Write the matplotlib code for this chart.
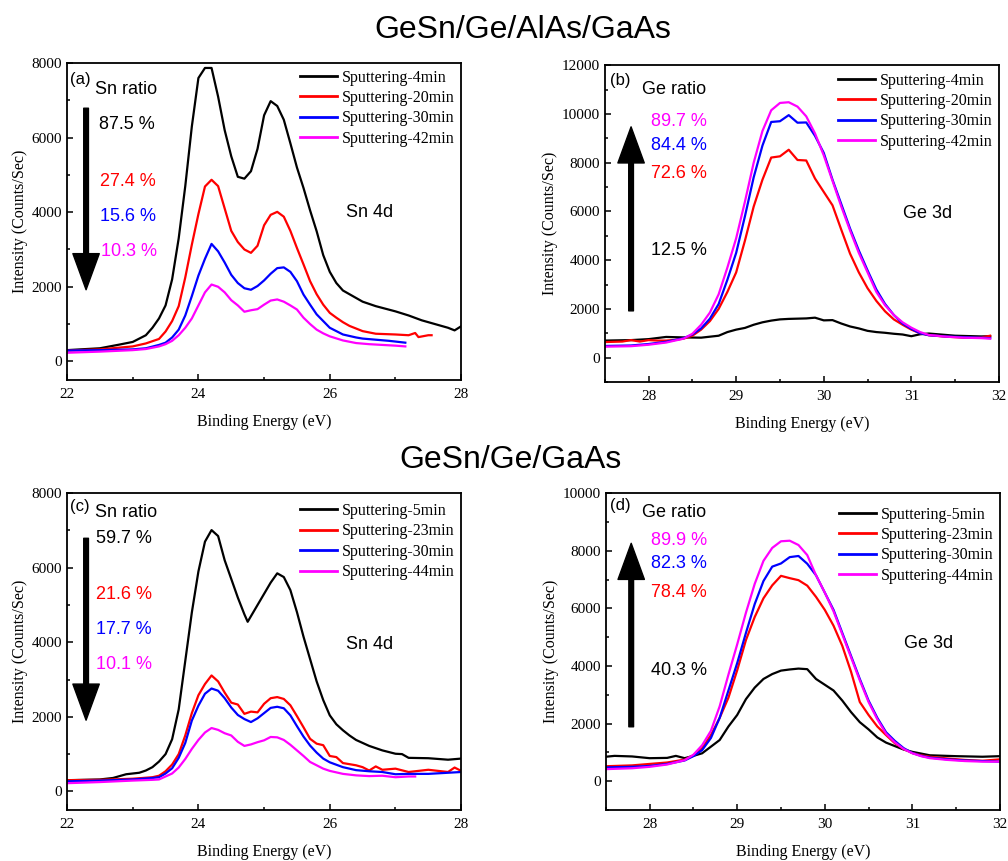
import numpy as np
import matplotlib
matplotlib.use("Agg")
import matplotlib.pyplot as plt
from matplotlib.ticker import MultipleLocator

plt.rcParams["font.family"] = ["Liberation Serif", "DejaVu Serif"]
SANS = ["Liberation Sans", "DejaVu Sans"]

COLORS = ["#000000", "#ff0000", "#0000ff", "#ff00ff"]

# ---- panel (a): Sn 4d, GeSn/Ge/AlAs/GaAs ----
A_LABELS = ["Sputtering-4min", "Sputtering-20min", "Sputtering-30min", "Sputtering-42min"]
A_X4 = [22.0, 22.5, 22.8, 23.0, 23.2, 23.3,
        23.4, 23.5, 23.6, 23.7, 23.8, 23.9, 24.0, 24.1, 24.2, 24.3,
        24.4, 24.5, 24.6, 24.7, 24.8, 24.9, 25.0, 25.1, 25.2, 25.3,
        25.4, 25.5, 25.6, 25.7, 25.8, 25.9, 26.0, 26.1, 26.2, 26.3,
        26.5, 26.7, 27.0, 27.2, 27.4, 27.6, 27.8, 27.9, 28.0]
A_Y4 = [300, 350, 450, 520, 700, 900,
        1150, 1500, 2200, 3300, 4700, 6300, 7600, 7870, 7870, 7100,
        6200, 5500, 4950, 4900, 5100, 5700, 6600, 6980, 6850, 6480,
        5850, 5200, 4650, 4050, 3490, 2850, 2400, 2100, 1900, 1800,
        1600, 1480, 1340, 1230, 1100, 1000, 900, 830, 940]
A_X20 = [22.0, 22.5, 23.0, 23.2,
         23.4, 23.5, 23.6, 23.7, 23.8, 23.9, 24.0, 24.1, 24.2, 24.3,
         24.4, 24.5, 24.6, 24.7, 24.8, 24.9, 25.0, 25.1, 25.2, 25.3,
         25.4, 25.5, 25.6, 25.7, 25.8, 25.9, 26.0, 26.1, 26.2, 26.3,
         26.5, 26.7, 27.0, 27.2, 27.3, 27.35, 27.5, 27.55]
A_Y20 = [290, 320, 400, 480,
         600, 800, 1080, 1480, 2250, 3130, 3950, 4690, 4870, 4700,
         4100, 3500, 3200, 3000, 2910, 3100, 3650, 3930, 4010, 3880,
         3500, 3040, 2600, 2150, 1800, 1520, 1300, 1170, 1050, 950,
         810, 740, 720, 700, 760, 650, 700, 700]
A_X30 = [22.0, 22.5, 23.0, 23.2,
         23.4, 23.5, 23.6, 23.7, 23.8, 23.9, 24.0, 24.1, 24.2, 24.3,
         24.4, 24.5, 24.6, 24.7, 24.8, 24.9, 25.0, 25.1, 25.2, 25.3,
         25.4, 25.5, 25.6, 25.7, 25.8, 25.9, 26.0,
         26.2, 26.4, 26.5, 26.7, 26.9, 27.0, 27.15]
A_Y30 = [290, 300, 320, 350,
         440, 500, 640, 850, 1230, 1750, 2300, 2750, 3150, 2950,
         2650, 2320, 2100, 1960, 1920, 2020, 2170, 2350, 2500, 2520,
         2400, 2150, 1790, 1520, 1260, 1080, 900,
         720, 640, 610, 580, 550, 530, 500]
A_X42 = [22.0, 22.5, 23.0, 23.2,
         23.4, 23.5, 23.6, 23.7, 23.8, 23.9, 24.0, 24.1, 24.2, 24.3,
         24.4, 24.5, 24.6, 24.7, 24.8, 24.9, 25.0, 25.1, 25.2, 25.3,
         25.4, 25.5, 25.6, 25.7, 25.8, 25.9, 26.0,
         26.2, 26.4, 26.6, 26.8, 27.0, 27.15]
A_Y42 = [230, 260, 300, 330,
         400, 460, 550, 700, 900, 1150, 1500, 1850, 2060, 2000,
         1850, 1640, 1500, 1330, 1370, 1400, 1520, 1630, 1660, 1600,
         1500, 1390, 1170, 1000, 850, 750, 670,
         560, 490, 460, 440, 420, 400]

# ---- panel (b): Ge 3d, GeSn/Ge/AlAs/GaAs ----
B_LABELS = A_LABELS
B_X4 = [27.5, 27.8, 28.0, 28.2, 28.4, 28.6,
        28.8, 28.9, 29.0, 29.1, 29.2, 29.3, 29.4, 29.5, 29.6, 29.7,
        29.8, 29.9, 30.0, 30.1, 30.2, 30.3, 30.4, 30.5, 30.6, 30.7,
        30.8, 30.9, 31.0, 31.1, 31.2, 31.5, 31.8, 31.9]
B_Y4 = [700, 720, 760, 850, 830, 820,
        900, 1050, 1150, 1220, 1350, 1450, 1520, 1570, 1590, 1600,
        1610, 1640, 1530, 1540, 1400, 1280, 1200, 1100, 1050, 1020,
        980, 950, 880, 960, 990, 900, 870, 880]
B_X20 = [27.5, 27.6, 27.7, 27.8, 27.9, 28.0, 28.1, 28.2, 28.3, 28.4, 28.5,
         28.6, 28.7, 28.8, 28.9, 29.0, 29.1, 29.2, 29.3, 29.4, 29.5,
         29.6, 29.7, 29.8, 29.9, 30.0, 30.1, 30.2, 30.3, 30.4, 30.5,
         30.6, 30.7, 30.8, 30.9, 31.0, 31.1, 31.2, 31.4, 31.6, 31.8, 31.9]
B_Y20 = [640, 650, 660, 720, 660, 720, 700, 700, 730, 780, 900,
         1150, 1500, 2000, 2700, 3500, 4800, 6200, 7300, 8210, 8260,
         8530, 8110, 8090, 7350, 6800, 6250, 5250, 4270, 3500, 2850,
         2330, 1900, 1570, 1350, 1150, 1000, 920, 860, 820, 830, 900]
B_X30 = [27.5, 27.8, 28.0, 28.2, 28.4, 28.5,
         28.6, 28.7, 28.8, 28.9, 29.0, 29.1, 29.2, 29.3, 29.4, 29.5,
         29.6, 29.7, 29.8, 29.9, 30.0, 30.1, 30.2, 30.3, 30.4, 30.5,
         30.6, 30.7, 30.8, 30.9, 31.0, 31.1, 31.2, 31.4, 31.6, 31.8, 31.9]
B_Y30 = [480, 500, 560, 650, 800, 950,
         1200, 1600, 2200, 3200, 4300, 5800, 7400, 8700, 9670, 9700,
         9950, 9640, 9650, 9100, 8400, 7300, 6300, 5300, 4400, 3580,
         2800, 2200, 1750, 1400, 1180, 1000, 920, 870, 840, 820, 800]
B_X42 = B_X30
B_Y42 = [450, 470, 530, 620, 780, 980,
         1350, 1850, 2600, 3700, 4900, 6400, 8000, 9300, 10150, 10450,
         10480, 10300, 9900, 9200, 8300, 7250, 6200, 5220, 4300, 3500,
         2700, 2150, 1750, 1450, 1230, 1050, 930, 860, 820, 800, 780]

# ---- panel (c): Sn 4d, GeSn/Ge/GaAs ----
C_LABELS = ["Sputtering-5min", "Sputtering-23min", "Sputtering-30min", "Sputtering-44min"]
C_X5 = [22.0, 22.5, 22.7, 22.9, 23.1, 23.2, 23.3,
        23.4, 23.5, 23.6, 23.7, 23.8, 23.9, 24.0, 24.1, 24.2, 24.3,
        24.4, 24.5, 24.6, 24.7, 24.75, 24.8, 24.9, 25.0, 25.1, 25.2, 25.3,
        25.4, 25.5, 25.6, 25.7, 25.8, 25.9, 26.0, 26.1, 26.2, 26.3,
        26.4, 26.6, 26.8, 27.0, 27.1, 27.2, 27.5, 27.8, 28.0]
C_Y5 = [300, 320, 360, 460, 500, 560, 650,
        800, 1000, 1400, 2200, 3500, 4800, 5900, 6700, 7010, 6850,
        6200, 5700, 5200, 4750, 4550, 4700, 5000, 5300, 5600, 5850, 5750,
        5400, 4810, 4150, 3550, 2950, 2450, 2040, 1800, 1640, 1500,
        1380, 1220, 1100, 1010, 1000, 900, 890, 850, 880]
C_X23 = [22.0, 22.5, 23.0, 23.3,
         23.4, 23.5, 23.6, 23.7, 23.8, 23.9, 24.0, 24.1, 24.2, 24.3,
         24.4, 24.5, 24.6, 24.7, 24.8, 24.9, 25.0, 25.1, 25.2, 25.3,
         25.4, 25.5, 25.6, 25.7, 25.8, 25.9, 26.0, 26.1, 26.2, 26.3,
         26.4, 26.5, 26.6, 26.7, 26.8, 27.0, 27.2, 27.5, 27.8, 27.9, 28.0]
C_Y23 = [300, 310, 340, 380,
         420, 540, 720, 1000, 1500, 2100, 2580, 2880, 3110, 2950,
         2650, 2380, 2330, 2080, 2140, 2120, 2350, 2500, 2530, 2480,
         2310, 2020, 1720, 1410, 1280, 1240, 950, 920, 760, 730,
         700, 650, 560, 670, 580, 610, 520, 580, 520, 640, 550]
C_X30 = [22.0, 22.5, 23.0, 23.3,
         23.4, 23.5, 23.6, 23.7, 23.8, 23.9, 24.0, 24.1, 24.2, 24.3,
         24.4, 24.5, 24.6, 24.7, 24.8, 24.9, 25.0, 25.1, 25.2, 25.3,
         25.4, 25.5, 25.6, 25.7, 25.8, 25.9, 26.0,
         26.2, 26.4, 26.6, 26.8, 27.0, 27.2, 27.5, 27.8, 28.0]
C_Y30 = [270, 290, 320, 360,
         380, 480, 620, 900, 1300, 1900, 2300, 2620, 2760, 2700,
         2500, 2250, 2050, 1940, 1860, 1960, 2100, 2240, 2270, 2230,
         2040, 1750, 1470, 1230, 1040, 880, 780,
         650, 570, 540, 520, 460, 470, 470, 500, 520]
C_X44 = [22.0, 22.5, 23.0, 23.3,
         23.4, 23.5, 23.6, 23.7, 23.8, 23.9, 24.0, 24.1, 24.2, 24.3,
         24.4, 24.5, 24.6, 24.7, 24.8, 24.9, 25.0, 25.1, 25.2, 25.3,
         25.4, 25.5, 25.6, 25.7, 25.8, 25.9, 26.0,
         26.2, 26.4, 26.6, 26.8, 27.0, 27.2, 27.3]
C_Y44 = [220, 250, 290, 310,
         320, 400, 480, 640, 870, 1140, 1380, 1580, 1700, 1650,
         1560, 1500, 1330, 1220, 1260, 1320, 1370, 1460, 1450, 1380,
         1250, 1100, 950, 790, 700, 610, 550,
         470, 430, 410, 420, 380, 400, 400]

# ---- panel (d): Ge 3d, GeSn/Ge/GaAs ----
D_LABELS = C_LABELS
D_X5 = [27.5, 27.6, 27.8, 28.0, 28.2, 28.3, 28.4, 28.5,
        28.6, 28.7, 28.8, 28.9, 29.0, 29.1, 29.2, 29.3, 29.4, 29.5,
        29.6, 29.7, 29.8, 29.9, 30.0, 30.1, 30.2, 30.3, 30.4, 30.5,
        30.6, 30.7, 30.8, 30.9, 31.0, 31.1, 31.2, 31.5, 31.8, 32.0]
D_Y5 = [850, 880, 860, 800, 810, 880, 800, 880,
        970, 1200, 1430, 1900, 2300, 2850, 3250, 3550, 3720, 3840,
        3880, 3910, 3890, 3550, 3350, 3150, 2800, 2400, 2050, 1800,
        1520, 1340, 1220, 1100, 1020, 960, 900, 870, 850, 870]
D_X23 = [27.5, 27.8, 28.0, 28.2, 28.4, 28.5,
         28.6, 28.7, 28.8, 28.9, 29.0, 29.1, 29.2, 29.3, 29.4, 29.5,
         29.6, 29.7, 29.8, 29.9, 30.0, 30.1, 30.2, 30.3, 30.4, 30.5,
         30.6, 30.7, 30.8, 30.9, 31.0, 31.1, 31.2, 31.4, 31.6, 31.8, 32.0]
D_Y23 = [520, 550, 600, 650, 750, 900,
         1150, 1600, 2200, 2900, 3850, 4900, 5700, 6350, 6800, 7130,
         7050, 6980, 6790, 6400, 5950, 5400, 4700, 3800, 2750, 2300,
         1900, 1600, 1320, 1120, 980, 900, 850, 790, 740, 710, 760]
D_X30 = D_X23
D_Y30 = [480, 500, 530, 600, 720, 870,
         1080, 1500, 2200, 3150, 4100, 5150, 6150, 6950, 7450, 7560,
         7780, 7820, 7550, 7150, 6550, 5950, 5150, 4350, 3550, 2800,
         2200, 1700, 1400, 1150, 980, 880, 820, 760, 720, 700, 680]
D_X44 = D_X23
D_Y44 = [420, 450, 500, 580, 730, 920,
         1250, 1750, 2600, 3700, 4750, 5850, 6850, 7650, 8100, 8330,
         8350, 8200, 7850, 7150, 6550, 5900, 5100, 4300, 3500, 2750,
         2150, 1650, 1350, 1120, 970, 870, 800, 740, 700, 680, 680]

# ratio annotations: (text, x, y, colour index)
A_RATIOS = [("87.5 %", 22.48, 6350, 0), ("27.4 %", 22.50, 4830, 1),
            ("15.6 %", 22.50, 3890, 2), ("10.3 %", 22.51, 2950, 3)]
B_RATIOS = [("89.7 %", 28.03, 9700, 3), ("84.4 %", 28.03, 8710, 2),
            ("72.6 %", 28.03, 7540, 1), ("12.5 %", 28.03, 4390, 0)]
C_RATIOS = [("59.7 %", 22.44, 6790, 0), ("21.6 %", 22.44, 5270, 1),
            ("17.7 %", 22.44, 4330, 2), ("10.1 %", 22.44, 3400, 3)]
D_RATIOS = [("89.9 %", 28.02, 8350, 3), ("82.3 %", 28.02, 7570, 2),
            ("78.4 %", 28.02, 6550, 1), ("40.3 %", 28.02, 3860, 0)]


def draw_panel(ax, curves, labels, xlim, ylim, xmaj, xmin, tag, tag_xy,
               ratio_name, ratio_xy, ratios, peak, peak_xy, arrow_from, arrow_to,
               leg_y=1.0):
    for (x, y), lab, c in zip(curves, labels, COLORS):
        ax.plot(x, y, color=c, lw=1.6, label=lab)
    ax.set_xlim(*xlim)
    ax.set_ylim(*ylim)
    ax.xaxis.set_major_locator(MultipleLocator(xmaj))
    ax.xaxis.set_minor_locator(MultipleLocator(xmin))
    ax.yaxis.set_major_locator(MultipleLocator(2000))
    ax.yaxis.set_minor_locator(MultipleLocator(1000))
    ax.tick_params(which="both", direction="in", top=False, right=False,
                   labelsize=11, width=1.1)
    ax.tick_params(which="major", length=4.5)
    ax.tick_params(which="minor", length=2.5)
    ax.tick_params(axis="x", which="both", pad=6)
    for s in ax.spines.values():
        s.set_linewidth(1.3)
    ax.set_xlabel("Binding Energy (eV)", fontsize=11.5, labelpad=9)
    ax.set_ylabel("Intensity (Counts/Sec)", fontsize=11.5, labelpad=3)

    ax.text(*tag_xy, tag, family=SANS, fontsize=12, va="center", ha="left")
    ax.text(*ratio_xy, ratio_name, family=SANS, fontsize=13, va="center", ha="left")
    for txt, tx, ty, ci in ratios:
        ax.text(tx, ty, txt, family=SANS, fontsize=13, color=COLORS[ci],
                va="center", ha="left")
    ax.text(*peak_xy, peak, family=SANS, fontsize=13, va="center", ha="left")

    ax.annotate("", xy=arrow_to, xytext=arrow_from,
                arrowprops=dict(width=3.4, headwidth=19, headlength=26,
                                shrink=0, color="black"))

    leg = ax.legend(loc="upper right", bbox_to_anchor=(1.0, leg_y),
                    frameon=False, fontsize=11.5,
                    handlelength=2.3, handletextpad=0.3, labelspacing=0.28,
                    borderaxespad=0.1, borderpad=0.3)
    for h in leg.get_lines():
        h.set_linewidth(2.0)


fig = plt.figure(figsize=(10.08, 8.61), dpi=100)
ax_a = fig.add_axes([0.0665, 0.5587, 0.391, 0.368])
ax_b = fig.add_axes([0.600, 0.5563, 0.391, 0.368])
ax_c = fig.add_axes([0.0665, 0.0592, 0.391, 0.368])
ax_d = fig.add_axes([0.601, 0.0592, 0.391, 0.368])

draw_panel(ax_a, [(A_X4, A_Y4), (A_X20, A_Y20), (A_X30, A_Y30), (A_X42, A_Y42)],
           A_LABELS, (22, 28), (-500, 8000), 2, 1, "(a)", (22.05, 7570),
           "Sn ratio", (22.43, 7300), A_RATIOS, "Sn 4d", (26.24, 3980),
           (22.29, 6790), (22.29, 1920), leg_y=1.0)
draw_panel(ax_b, [(B_X4, B_Y4), (B_X20, B_Y20), (B_X30, B_Y30), (B_X42, B_Y42)],
           B_LABELS, (27.5, 32), (-1000, 12000), 1, 0.5, "(b)", (27.56, 11390),
           "Ge ratio", (27.92, 11000), B_RATIOS, "Ge 3d", (30.91, 5900),
           (27.80, 1920), (27.80, 9470), leg_y=0.997)
draw_panel(ax_c, [(C_X5, C_Y5), (C_X23, C_Y23), (C_X30, C_Y30), (C_X44, C_Y44)],
           C_LABELS, (22, 28), (-500, 8000), 2, 1, "(c)", (22.04, 7640),
           "Sn ratio", (22.43, 7490), C_RATIOS, "Sn 4d", (26.24, 3950),
           (22.29, 6790), (22.29, 1910), leg_y=0.99)
draw_panel(ax_d, [(D_X5, D_Y5), (D_X23, D_Y23), (D_X30, D_Y30), (D_X44, D_Y44)],
           D_LABELS, (27.5, 32), (-1000, 10000), 1, 0.5, "(d)", (27.55, 9560),
           "Ge ratio", (27.91, 9340), D_RATIOS, "Ge 3d", (30.90, 4790),
           (27.79, 1890), (27.79, 8260), leg_y=0.978)

fig.text(0.519, 0.965, "GeSn/Ge/AlAs/GaAs", family=SANS, fontsize=23,
         ha="center", va="center")
fig.text(0.506, 0.466, "GeSn/Ge/GaAs", family=SANS, fontsize=23,
         ha="center", va="center")

fig.savefig("out.png", dpi=100)
